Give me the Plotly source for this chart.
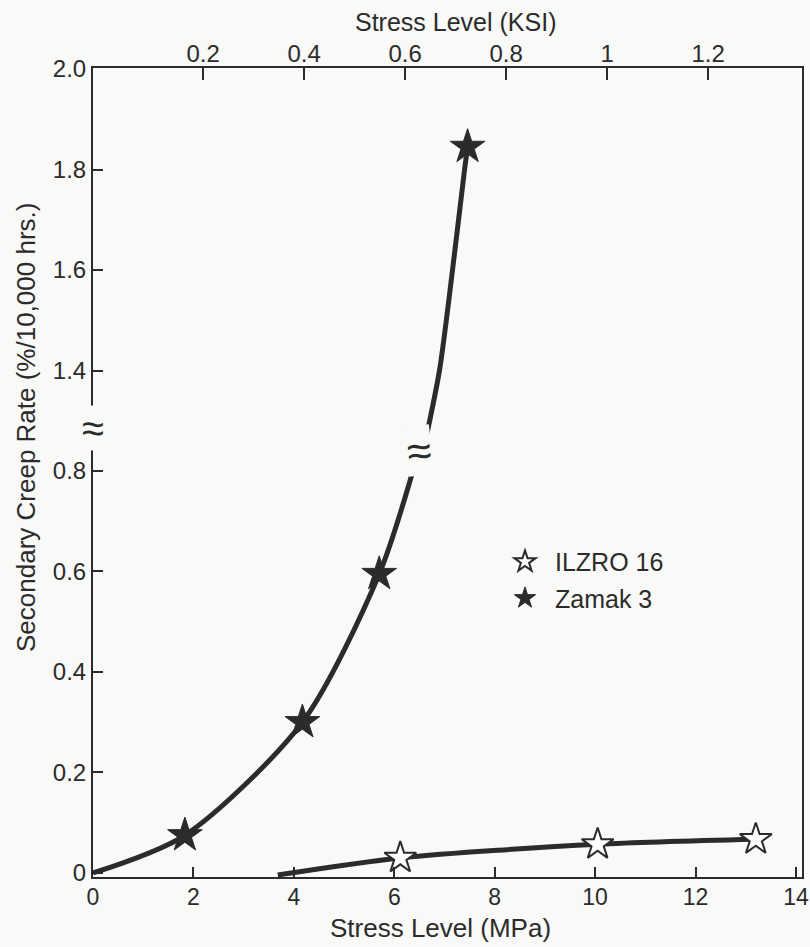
import plotly.graph_objects as go

# ---- data (actual values) ----
zamak_x = [1.83, 4.17, 5.7, 7.46]
zamak_y = [0.075, 0.30, 0.595, 1.845]
zamak_curve_lo_x = [0, 1.83, 4.17, 5.7, 6.4]
zamak_curve_lo_y = [0, 0.075, 0.30, 0.595, 0.81]
zamak_curve_hi_x = [6.62, 6.9, 7.16, 7.4, 7.46]
zamak_curve_hi_y = [1.26, 1.40, 1.60, 1.80, 1.845]

ilzro_x = [6.12, 10.05, 13.2]
ilzro_y = [0.03, 0.057, 0.067]
ilzro_curve_x = [3.68, 6.12, 10.05, 13.2]
ilzro_curve_y = [-0.004, 0.03, 0.057, 0.067]

y_tick_labels = ["0", "0.2", "0.4", "0.6", "0.8", "1.4", "1.6", "1.8", "2.0"]
y_tick_values = [0, 0.2, 0.4, 0.6, 0.8, 1.4, 1.6, 1.8, 2.0]
x_ticks = [0, 2, 4, 6, 8, 10, 12, 14]
ksi_ticks = [0.2, 0.4, 0.6, 0.8, 1.0, 1.2]
ksi_labels = ["0.2", "0.4", "0.6", "0.8", "1", "1.2"]

BREAK_SHIFT = 0.4  # values >= 1.2 drawn 0.4 lower (axis break)


def disp(v):
    return v if v <= 1.0 else v - BREAK_SHIFT


INK = "#2b2b2b"
BG = "#f9f9f7"
FONT = "Liberation Sans, Arial, sans-serif"

fig = go.Figure()

line_style = dict(color=INK, width=5, shape="spline", smoothing=0.8)

fig.add_trace(go.Scatter(x=zamak_curve_lo_x, y=[disp(v) for v in zamak_curve_lo_y],
                         mode="lines", line=line_style, showlegend=False, hoverinfo="skip"))
fig.add_trace(go.Scatter(x=zamak_curve_hi_x, y=[disp(v) for v in zamak_curve_hi_y],
                         mode="lines", line=line_style, showlegend=False, hoverinfo="skip"))
fig.add_trace(go.Scatter(x=ilzro_curve_x, y=[disp(v) for v in ilzro_curve_y],
                         mode="lines", line=line_style, showlegend=False, hoverinfo="skip"))

fig.add_trace(go.Scatter(x=ilzro_x, y=[disp(v) for v in ilzro_y], mode="markers",
                         name="ILZRO 16", legendgroup="a",
                         marker=dict(symbol="star", size=24, color="white",
                                     line=dict(color=INK, width=2))))
fig.add_trace(go.Scatter(x=zamak_x, y=[disp(v) for v in zamak_y], mode="markers",
                         name="Zamak 3", legendgroup="b",
                         marker=dict(symbol="star", size=26, color=INK,
                                     line=dict(color=INK, width=1))))

# dummy trace for top axis
fig.add_trace(go.Scatter(x=[ksi_ticks[0]], y=[0], xaxis="x2", mode="markers",
                         marker=dict(opacity=0), showlegend=False, hoverinfo="skip"))
# dummy trace to show right border
fig.add_trace(go.Scatter(x=[0], y=[0], yaxis="y2", mode="markers", marker=dict(opacity=0),
                         showlegend=False, hoverinfo="skip"))

# break marks
fig.add_annotation(x=0, xref="paper", y=0.885, yref="y", text="≈", showarrow=False,
                   xanchor="center", yanchor="middle",
                   font=dict(size=40, color=INK, family=FONT),
                   bgcolor=BG, borderpad=0)
fig.add_annotation(x=6.5, xref="x", y=0.84, yref="y", text="≈", showarrow=False,
                   xanchor="center", yanchor="middle",
                   font=dict(size=44, color=INK, family=FONT), textangle=-6,
                   bgcolor=BG, borderpad=0)

# axis titles as annotations for exact placement
fig.add_annotation(x=(455 - 93) / 709, xref="paper", y=(877 - 22) / 809,
                   yref="paper", text="Stress Level (KSI)", showarrow=False,
                   xanchor="center", yanchor="middle", font=dict(size=25, color=INK))
fig.add_annotation(x=(440 - 93) / 709, xref="paper", y=(877 - 928) / 809,
                   yref="paper", text="Stress Level (MPa)", showarrow=False,
                   xanchor="center", yanchor="middle", font=dict(size=26, color=INK))
fig.add_annotation(x=(26 - 93) / 709, xref="paper", y=(877 - 428) / 809,
                   yref="paper", text="Secondary Creep Rate (%/10,000 hrs.)",
                   showarrow=False, textangle=-90,
                   xanchor="center", yanchor="middle", font=dict(size=26, color=INK))

fig.update_layout(
    width=810, height=947,
    margin=dict(l=93, r=8, t=68, b=70, autoexpand=False),
    paper_bgcolor=BG, plot_bgcolor=BG,
    font=dict(family=FONT, color=INK, size=24),
    showlegend=True,
    legend=dict(x=0.567, y=0.418, xanchor="left", yanchor="top",
                bgcolor="rgba(0,0,0,0)", font=dict(size=25, color=INK),
                itemsizing="trace", itemwidth=50, tracegroupgap=1),
    xaxis=dict(range=[0, 14.12], tickvals=x_ticks, ticks="inside", ticklen=10, tickwidth=1.5,
               tickcolor=INK, showline=True, linecolor=INK, linewidth=2, mirror=False,
               showgrid=False, zeroline=False, tickfont=dict(size=23),
               ticklabeloverflow="allow", automargin=False, ticklabelstandoff=-2),
    xaxis2=dict(overlaying="x", side="top", range=[-0.018, 1.386], tickvals=ksi_ticks,
                ticktext=ksi_labels, ticks="inside", ticklen=12, tickwidth=1.5,
                tickcolor=INK, showline=True, linecolor=INK, linewidth=2,
                showgrid=False, zeroline=False, tickfont=dict(size=24),
                ticklabelstandoff=-6, automargin=False),
    yaxis=dict(range=[-0.008, 1.602], tickvals=[disp(v) for v in y_tick_values],
               ticktext=y_tick_labels, ticks="inside", ticklen=10, tickwidth=1.5,
               tickcolor=INK, showline=True, linecolor=INK, linewidth=2, mirror=False,
               showgrid=False, zeroline=False, tickfont=dict(size=24), automargin=False),
    yaxis2=dict(overlaying="y", side="right", showline=True, linecolor=INK, linewidth=2,
                showticklabels=False, ticks="", showgrid=False, zeroline=False,
                range=[0, 1], automargin=False),
)

fig.write_html("out.html")
